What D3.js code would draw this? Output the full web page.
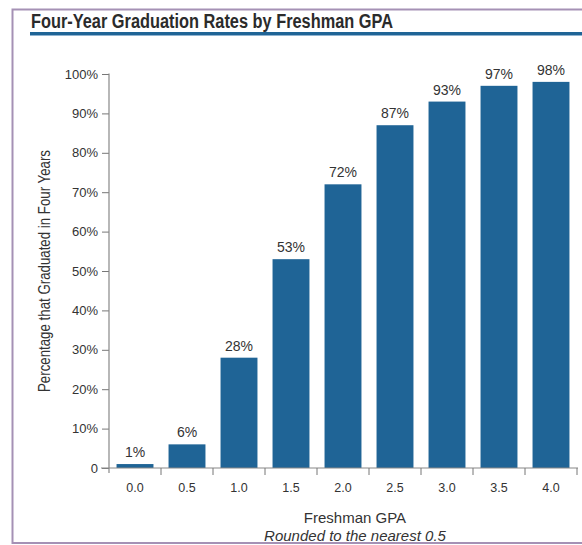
<!DOCTYPE html>
<html><head><meta charset="utf-8">
<script src="https://cdn.jsdelivr.net/npm/d3@7"></script>
<style>
body{margin:0;background:#fff;}
svg text{font-family:"Liberation Sans",Arial,sans-serif;fill:#333;}
</style></head>
<body><svg id="c" width="582" height="545"></svg>
<script>
const categories = ["0.0","0.5","1.0","1.5","2.0","2.5","3.0","3.5","4.0"];
const values = [1,6,28,53,72,87,93,97,98];
const yTicks = [0,10,20,30,40,50,60,70,80,90,100];
const title = "Four-Year Graduation Rates by Freshman GPA";

const svg = d3.select("#c");
// frame
svg.append("path").attr("d","M583,9.5H12.5V543H583").attr("fill","none").attr("stroke","#a591b5").attr("stroke-width",2);
svg.append("text").attr("x",31).attr("y",28).text(title)
  .attr("textLength",362).attr("lengthAdjust","spacingAndGlyphs")
  .style("font-weight","bold").style("font-size","19.5px").style("fill","#2b2b2b");
svg.append("rect").attr("x",30).attr("y",32).attr("width",560).attr("height",3).attr("fill","#1f6496");
svg.append("rect").attr("x",30).attr("y",35).attr("width",560).attr("height",1).attr("fill","#8fb3d0");

const x = d3.scaleBand().domain(categories).range([109,577]).paddingInner(0.29).paddingOuter(0.145);
const y = d3.scaleLinear().domain([0,100]).range([468,74]);

// y axis
const ya = svg.append("g").attr("transform","translate(109,0)")
  .call(d3.axisLeft(y).tickValues(yTicks).tickSize(7).tickPadding(4).tickFormat(d=>d===0?"0":d+"%"));
ya.select(".domain").remove();
ya.selectAll(".tick line").attr("stroke","#777");
ya.selectAll(".tick text").style("font-size","13px").style("fill","#333");
svg.append("line").attr("x1",109).attr("x2",109).attr("y1",73.5).attr("y2",473).attr("stroke","#888").attr("stroke-width",1.2);

// bars
svg.append("g").selectAll("rect").data(values).join("rect")
  .attr("x",(d,i)=>x(categories[i])).attr("width",x.bandwidth())
  .attr("y",d=>y(d)).attr("height",d=>y(0)-y(d)).attr("fill","#1f6496");
svg.append("g").selectAll("text").data(values).join("text")
  .attr("x",(d,i)=>x(categories[i])+x.bandwidth()/2).attr("y",d=>y(d)-7)
  .attr("text-anchor","middle").style("font-size","14px").style("fill","#333").text(d=>d+"%");

// x axis
svg.append("line").attr("x1",101).attr("x2",578).attr("y1",468).attr("y2",468).attr("stroke","#888").attr("stroke-width",1.2);
const step = x.step();
svg.append("g").selectAll("line").data(categories).join("line")
  .attr("x1",(d,i)=>x(d)-x.paddingOuter()*step+step).attr("x2",(d,i)=>x(d)-x.paddingOuter()*step+step)
  .attr("y1",468).attr("y2",475).attr("stroke","#777");
svg.append("g").selectAll("text").data(categories).join("text")
  .attr("x",d=>x(d)+x.bandwidth()/2).attr("y",492).attr("text-anchor","middle")
  .style("font-size","12.5px").style("fill","#333").text(d=>d);

svg.append("text").attr("x",355).attr("y",523).attr("text-anchor","middle").style("font-size","15px").text("Freshman GPA");
svg.append("text").attr("x",355).attr("y",541).attr("text-anchor","middle").style("font-size","15px").style("font-style","italic").text("Rounded to the nearest 0.5");

svg.append("text").attr("transform","translate(50,271) rotate(-90)").attr("text-anchor","middle")
  .attr("textLength",242).attr("lengthAdjust","spacingAndGlyphs")
  .style("font-size","16px").text("Percentage that Graduated in Four Years");
</script></body></html>
